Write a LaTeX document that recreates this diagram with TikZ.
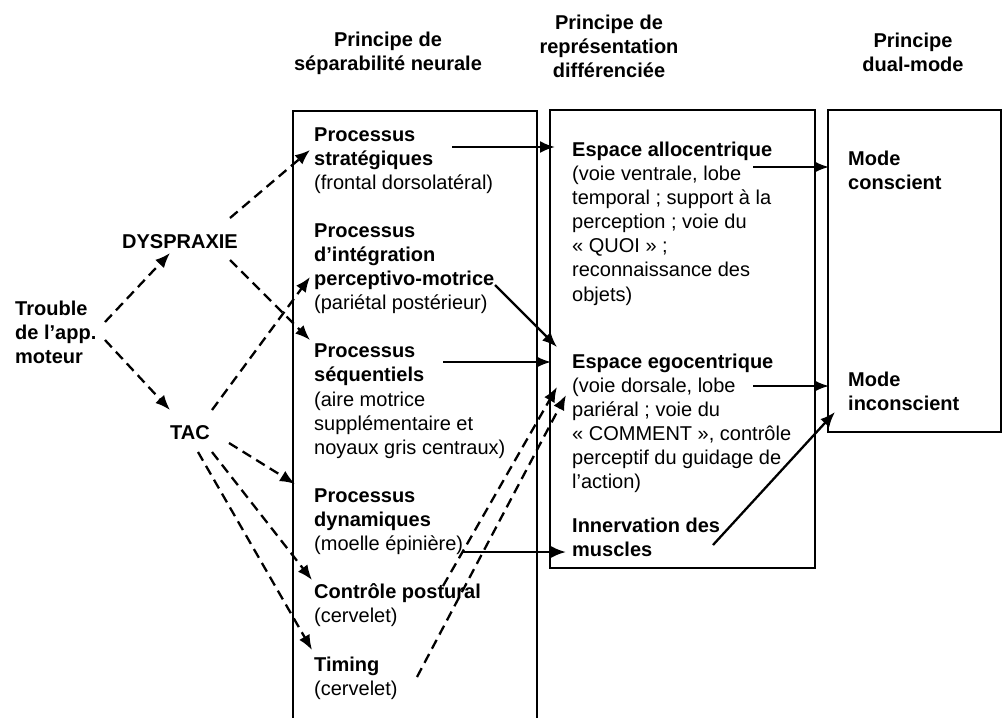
\documentclass[tikz,border=0pt]{standalone}
\usepackage{fontspec}
\setmainfont{Liberation Sans}
\usetikzlibrary{arrows.meta}
\tikzset{
  txt/.style={inner sep=0pt, anchor=base west, align=left, font=\fontsize{20}{24.1}\selectfont},
  btxt/.style={txt, font=\fontsize{20}{24.1}\selectfont\bfseries},
  head/.style={inner sep=0pt, anchor=base, align=center, font=\fontsize{20}{24.1}\selectfont\bfseries},
  frame/.style={line width=2pt},
  arr/.style={line width=2.3pt, -{Latex[length=15pt,width=12pt]}},
  darr/.style={arr, dash pattern=on 10pt off 6pt},
}
\begin{document}
\begin{tikzpicture}[x=1pt,y=-1pt]
\useasboundingbox (0,0) rectangle (1002,718);
% headers (positions = baseline of last line)
\node[head] (h1) at (388,70.1) {Principe de\\séparabilité neurale};
\node[head] (h2) at (609,77.2) {Principe de\\représentation\\différenciée};
\node[head] (h3) at (913,71.1) {Principe\\dual-mode};
% frames
\draw[frame] (293,718) -- (293,111) -- (537,111) -- (537,718);
\draw[frame] (550,110) rectangle (815,568);
\draw[frame] (828,110) rectangle (1001,432);
% left nodes
\node[btxt] (trouble) at (15,363.2) {Trouble\\de l’app.\\moteur};
\node[btxt, anchor=base] (dys) at (180,248) {DYSPRAXIE};
\node[btxt, anchor=base] (tac) at (190,439) {TAC};
% box 1
\node[txt] (strat) at (314,189.2) {\textbf{Processus}\\\textbf{stratégiques}\\(frontal dorsolatéral)};
\node[txt] (perc) at (314,309.7) {\textbf{Processus}\\\textbf{d’intégration}\\\textbf{perceptivo-motrice}\\(pariétal postérieur)};
\node[txt] (seq) at (314,454.2) {\textbf{Processus}\\\textbf{séquentiels}\\(aire motrice\\supplémentaire et\\noyaux gris centraux)};
\node[txt] (dyn) at (314,550.6) {\textbf{Processus}\\\textbf{dynamiques}\\(moelle épinière)};
\node[txt] (post) at (314,622.8) {\textbf{Contrôle postural}\\(cervelet)};
\node[txt] (tim) at (314,695.1) {\textbf{Timing}\\(cervelet)};
% box 2
\node[txt] (allo) at (572,301) {\textbf{Espace allocentrique}\\(voie ventrale, lobe\\temporal ; support à la\\perception ; voie du\\« QUOI » ;\\reconnaissance des\\objets)};
\node[txt] (ego) at (572,488.5) {\textbf{Espace egocentrique}\\(voie dorsale, lobe\\pariéral ; voie du\\« COMMENT », contrôle\\perceptif du guidage de\\l’action)};
\node[btxt] (inn) at (572,556.1) {Innervation des\\muscles};
% box 3
\node[btxt] (consc) at (848,189.1) {Mode\\conscient};
\node[btxt] (incon) at (848,410.1) {Mode\\inconscient};
% connector end points
\coordinate (a1) at (105,322); \coordinate (a2) at (170,253);
\coordinate (b1) at (105,340); \coordinate (b2) at (170,410);
\coordinate (c1) at (230,218); \coordinate (c2) at (310,150);
\coordinate (d1) at (230,260); \coordinate (d2) at (310,340);
\coordinate (e1) at (212,410); \coordinate (e2) at (310,277);
\coordinate (f1) at (229,443); \coordinate (f2) at (295,484);
\coordinate (g1) at (212,452); \coordinate (g2) at (312,580);
\coordinate (k1) at (198,452); \coordinate (k2) at (312,650);
\coordinate (m1) at (443,586); \coordinate (m2) at (557,387);
\coordinate (n1) at (417,677); \coordinate (n2) at (566,395);
\coordinate (p1) at (452,147); \coordinate (p2) at (555,147);
\coordinate (q1) at (495,285); \coordinate (q2) at (557,347);
\coordinate (r1) at (443,362); \coordinate (r2) at (551,362);
\coordinate (s1) at (462,552); \coordinate (s2) at (566,552);
\coordinate (u1) at (753,167); \coordinate (u2) at (829,167);
\coordinate (v1) at (753,386); \coordinate (v2) at (829,386);
\coordinate (w1) at (713,545); \coordinate (w2) at (835,412);
% dashed connectors
\draw[darr] (a1) -- (a2);
\draw[darr] (b1) -- (b2);
\draw[darr] (c1) -- (c2);
\draw[darr] (d1) -- (d2);
\draw[darr] (e1) -- (e2);
\draw[darr] (f1) -- (f2);
\draw[darr] (g1) -- (g2);
\draw[darr] (k1) -- (k2);
\draw[darr] (m1) -- (m2);
\draw[darr] (n1) -- (n2);
% solid connectors
\draw[arr] (p1) -- (p2);
\draw[arr] (q1) -- (q2);
\draw[arr] (r1) -- (r2);
\draw[arr] (s1) -- (s2);
\draw[arr] (u1) -- (u2);
\draw[arr] (v1) -- (v2);
\draw[arr] (w1) -- (w2);
\end{tikzpicture}
\end{document}
